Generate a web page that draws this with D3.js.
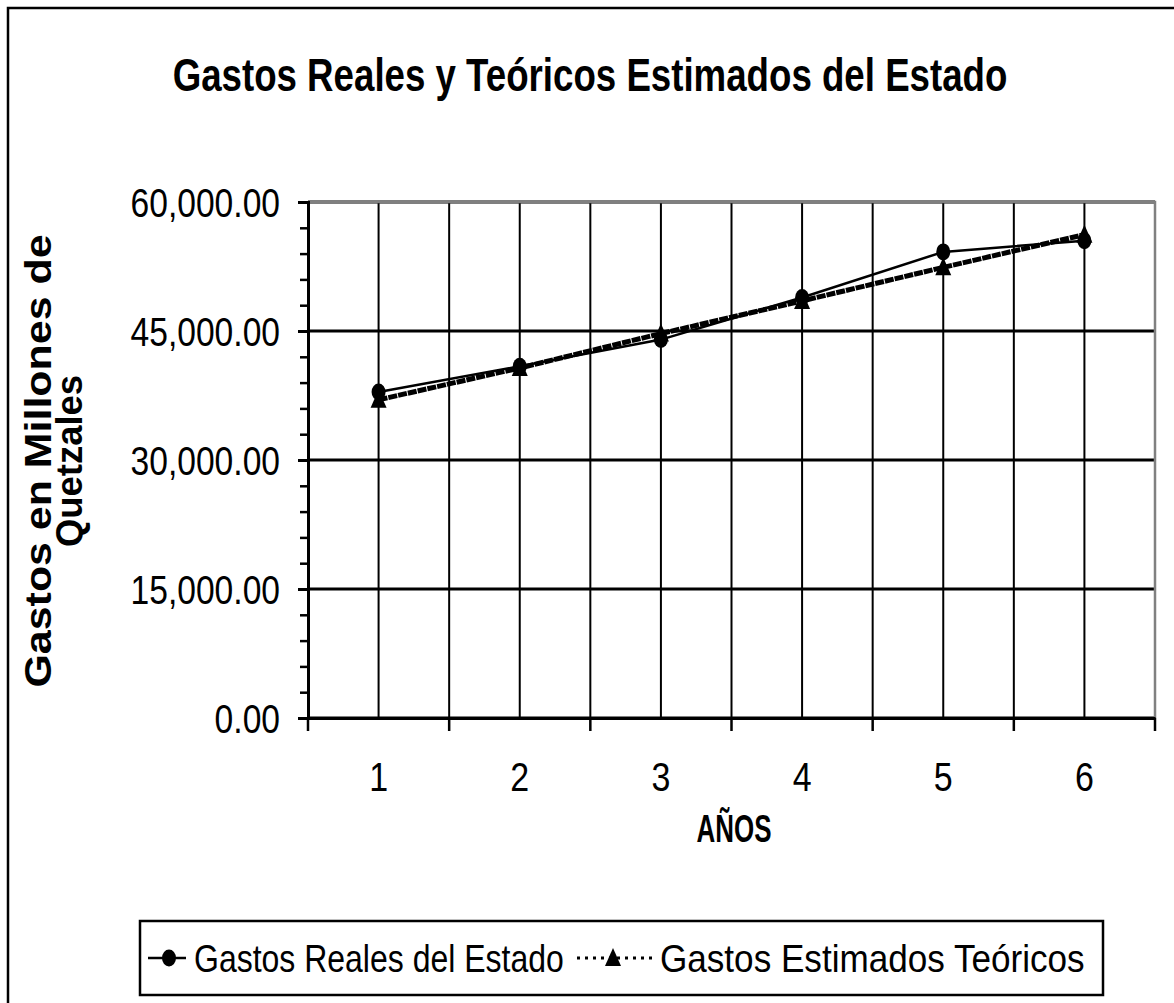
<!DOCTYPE html>
<html>
<head>
<meta charset="utf-8">
<script src="https://cdn.jsdelivr.net/npm/d3@7"></script>
<style>
  body { margin: 0; background: #fff; }
  text { font-family: "Liberation Sans", Arial, sans-serif; fill: #000; }
</style>
</head>
<body>
<svg id="grafico" width="1174" height="1003"></svg>
<script>
// datos
const anios = [1, 2, 3, 4, 5, 6]
const gastosReales = [37900, 40900, 44000, 48900, 54200, 55500]
const gastosEstimados = [37000, 40700, 44700, 48500, 52400, 56200]
const ticksY = [0, 15000, 30000, 45000, 60000]

const svg = d3.select('#grafico')

// area del grafico
const izq = 308, der = 1155, arriba = 202, abajo = 718

const x = d3.scaleBand().domain(anios).range([izq, der]).padding(0)
const y = d3.scaleLinear().domain([0, 60000]).range([abajo, arriba])
const fmt = d3.format(',.2f')

// estira/encoge el texto como lo hace excel
function ajusta(sel, k) {
  sel.each(function () {
    const w = this.getComputedTextLength()
    d3.select(this).attr('textLength', w * k).attr('lengthAdjust', 'spacingAndGlyphs')
  })
}

// marco exterior (solo se ven borde izq y arriba)
svg.append('rect')
  .attr('x', 8).attr('y', 8).attr('width', 1200).attr('height', 1100)
  .attr('fill', 'none').attr('stroke', '#000').attr('stroke-width', 2.5)

// titulo (escalado en horizontal hasta 835 px)
const titulo = svg.append('text')
  .attr('text-anchor', 'middle')
  .style('font-size', '47px').style('font-weight', 'bold')
  .text('Gastos Reales y Teóricos Estimados del Estado')
const anchoTitulo = titulo.node().getComputedTextLength()
titulo.attr('transform', `translate(590,91) scale(${835 / anchoTitulo},1)`)

// lineas de division verticales (centros y limites de categoria)
const verticales = anios.map(d => x(d) + x.bandwidth() / 2)
  .concat(anios.slice(1).map(d => x(d)))
svg.append('g').selectAll('line')
  .data(verticales)
  .join('line')
  .attr('x1', d => d).attr('x2', d => d)
  .attr('y1', arriba).attr('y2', abajo)
  .attr('stroke', '#000').attr('stroke-width', 2)

// lineas de division horizontales
svg.append('g').selectAll('line')
  .data(ticksY)
  .join('line')
  .attr('x1', izq).attr('x2', der)
  .attr('y1', d => y(d)).attr('y2', d => y(d))
  .attr('stroke', '#000').attr('stroke-width', 3)

// borde gris del area de trazado (arriba y derecha)
svg.append('path')
  .attr('d', `M${izq},${arriba}H${der}V${abajo}`)
  .attr('fill', 'none').attr('stroke', '#808080').attr('stroke-width', 2.5)

// eje Y: marcas menores y mayores
const ejeYmenor = d3.axisLeft(y).tickValues(d3.range(0, 60001, 3000)).tickSize(8).tickFormat('')
svg.append('g').attr('transform', `translate(${izq},0)`).call(ejeYmenor)
  .call(g => g.select('.domain').remove())
  .call(g => g.selectAll('line').attr('stroke-width', 2.5))

const ejeY = d3.axisLeft(y).tickValues(ticksY).tickSize(10).tickPadding(18).tickFormat(fmt)
svg.append('g').attr('transform', `translate(${izq},0)`).call(ejeY)
  .call(g => g.select('.domain').attr('stroke-width', 3))
  .call(g => g.selectAll('line').attr('stroke-width', 3))
  .call(g => g.selectAll('text')
    .attr('font-family', null).attr('font-size', null)
    .style('font-size', '40px').attr('dy', '0.36em')
    .call(ajusta, 0.84))

// eje X: marcas en los limites, etiquetas en el centro
const ejeX = d3.axisBottom(x).tickSize(0).tickPadding(45)
svg.append('g').attr('transform', `translate(0,${abajo})`).call(ejeX)
  .call(g => g.select('.domain').attr('stroke-width', 3))
  .call(g => g.selectAll('text')
    .attr('font-family', null).attr('font-size', null)
    .style('font-size', '40px').attr('dy', '0.71em')
    .call(ajusta, 0.85))

svg.append('g').selectAll('line')
  .data(anios.map(d => x(d)).concat([der]))
  .join('line')
  .attr('x1', d => d).attr('x2', d => d)
  .attr('y1', abajo).attr('y2', abajo + 13)
  .attr('stroke', '#000').attr('stroke-width', 2.5)

// titulos de los ejes
svg.append('text')
  .attr('x', 734).attr('y', 842)
  .attr('text-anchor', 'middle')
  .style('font-size', '38px').style('font-weight', 'bold')
  .attr('textLength', 75).attr('lengthAdjust', 'spacingAndGlyphs')
  .text('AÑOS')

const tituloY = svg.append('text')
  .attr('transform', 'translate(51,461) rotate(-90)')
  .attr('text-anchor', 'middle')
  .style('font-size', '36px').style('font-weight', 'bold')
tituloY.append('tspan').attr('x', 0).attr('y', 0)
  .attr('textLength', 453).attr('lengthAdjust', 'spacingAndGlyphs')
  .text('Gastos en Millones de')
tituloY.append('tspan').attr('x', 0).attr('y', 31)
  .attr('textLength', 172).attr('lengthAdjust', 'spacingAndGlyphs')
  .text('Quetzales')

// series
const cx = d => x(d) + x.bandwidth() / 2
const linea = d3.line().x((d, i) => cx(anios[i])).y(d => y(d))

svg.append('path')
  .datum(gastosEstimados)
  .attr('d', linea)
  .attr('fill', 'none').attr('stroke', '#000')
  .attr('stroke-width', 5).attr('stroke-dasharray', '9,1')

svg.append('path')
  .datum(gastosReales)
  .attr('d', linea)
  .attr('fill', 'none').attr('stroke', '#000').attr('stroke-width', 2.5)

function triangulo(px, py) {
  return `M${px},${py - 10}L${px + 8},${py + 8}L${px - 8},${py + 8}Z`
}

svg.append('g').selectAll('ellipse')
  .data(gastosReales)
  .join('ellipse')
  .attr('cx', (d, i) => cx(anios[i])).attr('cy', d => y(d))
  .attr('rx', 7).attr('ry', 8.5).attr('fill', '#000')

svg.append('g').selectAll('path')
  .data(gastosEstimados)
  .join('path')
  .attr('d', (d, i) => triangulo(cx(anios[i]), y(d)))
  .attr('fill', '#000')

// leyenda
const ley = svg.append('g')
ley.append('rect')
  .attr('x', 140).attr('y', 921).attr('width', 963).attr('height', 74)
  .attr('fill', '#fff').attr('stroke', '#000').attr('stroke-width', 2.5)

const ly = 958
ley.append('line').attr('x1', 148).attr('x2', 186).attr('y1', ly).attr('y2', ly)
  .attr('stroke', '#000').attr('stroke-width', 2.5)
ley.append('ellipse').attr('cx', 169).attr('cy', ly).attr('rx', 7).attr('ry', 8.5).attr('fill', '#000')
ley.append('text').attr('x', 194).attr('y', 972)
  .style('font-size', '39px').text('Gastos Reales del Estado')
  .call(ajusta, 0.82)

ley.append('line').attr('x1', 577).attr('x2', 652).attr('y1', ly).attr('y2', ly)
  .attr('stroke', '#000').attr('stroke-width', 3).attr('stroke-dasharray', '3,5')
ley.append('path').attr('d', triangulo(613, ly)).attr('fill', '#000')
ley.append('text').attr('x', 660).attr('y', 972)
  .style('font-size', '39px').text('Gastos Estimados Teóricos')
  .call(ajusta, 0.9)
</script>
</body>
</html>
